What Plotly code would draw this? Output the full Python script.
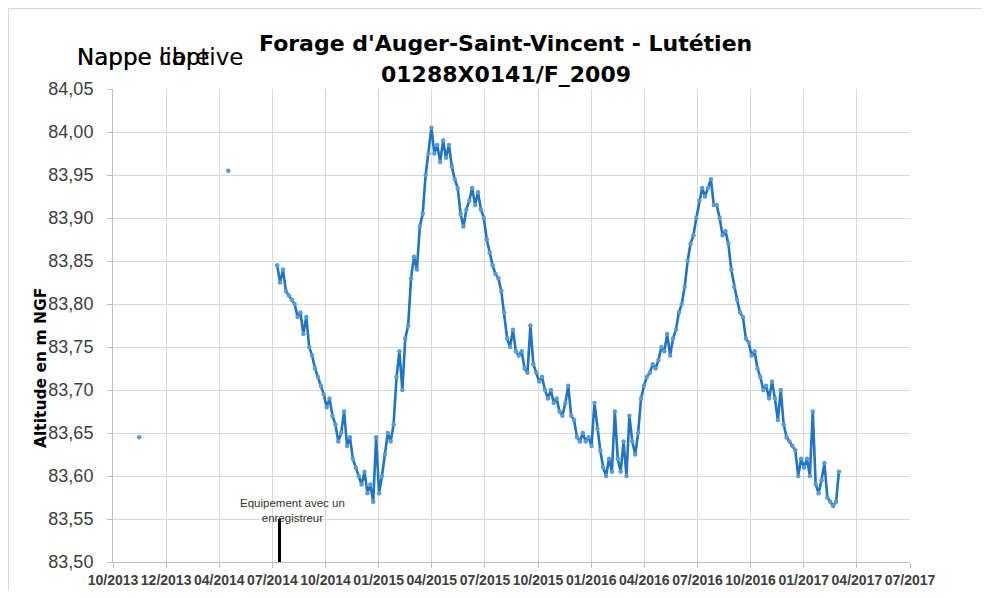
import pandas as pd
import plotly.graph_objects as go

# ---- data ----
series_start = "2014-07-10"
series_step_days = 5
levels = [
    83.845, 83.825, 83.840, 83.815, 83.810, 83.805, 83.800, 83.785, 83.790, 83.765,
    83.785, 83.750, 83.740, 83.725, 83.715, 83.705, 83.695, 83.680, 83.690, 83.670,
    83.660, 83.640, 83.650, 83.675, 83.635, 83.645, 83.620, 83.610, 83.600, 83.590,
    83.605, 83.580, 83.590, 83.570, 83.645, 83.580, 83.600, 83.625, 83.650, 83.640,
    83.660, 83.715, 83.745, 83.700, 83.760, 83.775, 83.830, 83.855, 83.840, 83.890,
    83.905, 83.950, 83.975, 84.005, 83.975, 83.985, 83.965, 83.990, 83.970, 83.985,
    83.960, 83.945, 83.935, 83.905, 83.890, 83.910, 83.920, 83.935, 83.915, 83.930,
    83.910, 83.900, 83.875, 83.860, 83.845, 83.835, 83.830, 83.815, 83.790, 83.760,
    83.750, 83.770, 83.745, 83.740, 83.745, 83.725, 83.720, 83.775, 83.730, 83.720,
    83.710, 83.715, 83.700, 83.690, 83.700, 83.685, 83.690, 83.675, 83.670, 83.685,
    83.705, 83.670, 83.665, 83.645, 83.640, 83.650, 83.640, 83.645, 83.635, 83.685,
    83.655, 83.630, 83.610, 83.600, 83.620, 83.605, 83.675, 83.620, 83.605, 83.640,
    83.600, 83.670, 83.640, 83.625, 83.650, 83.690, 83.705, 83.715, 83.720, 83.730,
    83.725, 83.735, 83.750, 83.745, 83.765, 83.740, 83.760, 83.770, 83.790, 83.800,
    83.820, 83.850, 83.870, 83.880, 83.900, 83.920, 83.935, 83.925, 83.935, 83.945,
    83.915, 83.915, 83.900, 83.880, 83.885, 83.870, 83.840, 83.820, 83.805, 83.790,
    83.785, 83.760, 83.755, 83.740, 83.745, 83.725, 83.715, 83.700, 83.705, 83.690,
    83.710, 83.690, 83.665, 83.700, 83.660, 83.645, 83.640, 83.635, 83.630, 83.600,
    83.620, 83.610, 83.620, 83.600, 83.675, 83.590, 83.580, 83.595, 83.615, 83.575,
    83.570, 83.565, 83.570, 83.605,
]
manual_dates = ["2013-11-15", "2014-04-17"]
manual_levels = [83.645, 83.955]

logger_date = "2014-07-14"
logger_marker_levels = [83.50, 83.55]

axis_start = "2013-10-01"
axis_end = "2017-07-01"
tick_labels = ["10/2013", "12/2013", "04/2014", "07/2014", "10/2014", "01/2015",
               "04/2015", "07/2015", "10/2015", "01/2016", "04/2016", "07/2016",
               "10/2016", "01/2017", "04/2017", "07/2017"]

title_line1 = "Forage d'Auger-Saint-Vincent - Lutétien"
title_line2 = "01288X0141/F_2009"
y_title = "Altitude en m NGF"
note_text = "Equipement avec un<br>enregistreur"

# ---- build ----
dates = pd.date_range(series_start, periods=len(levels), freq=f"{series_step_days}D")
t0, t1 = pd.Timestamp(axis_start), pd.Timestamp(axis_end)
n = len(tick_labels) - 1
tick_vals = [t0 + (t1 - t0) * k / n for k in range(n + 1)]

OFF = 8                      # page body margin
W, H = 991 - 2 * OFF, 598 - 2 * OFF
L, R, T, B = 113, 910, 89, 562   # plot area in screen pixels
def px(x):
    return (x - L) / (R - L)
def py(y):
    return (B - y) / (B - T)

line_col = "#1f74c6"
mark_col = "#5b9bd5"

fig = go.Figure()
fig.add_trace(go.Scatter(
    x=dates, y=levels, mode="lines+markers",
    line=dict(color=line_col, width=2.6),
    marker=dict(color=mark_col, size=4.5),
    showlegend=False, hoverinfo="x+y"))
fig.add_trace(go.Scatter(
    x=pd.to_datetime(manual_dates), y=manual_levels, mode="markers",
    marker=dict(color=mark_col, size=4.5), showlegend=False))
fig.add_trace(go.Scatter(
    x=[pd.Timestamp(logger_date)] * 2, y=logger_marker_levels, mode="lines",
    line=dict(color="black", width=3), showlegend=False))

fig.update_layout(
    width=W, height=H,
    margin=dict(l=L - OFF, r=W - (R - OFF), t=T - OFF, b=H - (B - OFF), autoexpand=False),
    paper_bgcolor="white", plot_bgcolor="white",
    separators=", ",
    font=dict(family="Liberation Sans, Arial, sans-serif", color="#404040"),
    showlegend=False,
)
fig.update_xaxes(
    type="date", range=[t0, t1], automargin=False,
    tickvals=tick_vals, ticktext=[f"<b>{t}</b>" for t in tick_labels],
    tickfont=dict(size=14, color="#404040"),
    showgrid=True, gridcolor="#d9d9d9", gridwidth=1,
    showline=True, linecolor="#bfbfbf", linewidth=1,
    ticks="outside", ticklen=5, tickcolor="#bfbfbf",
    zeroline=False, mirror=False,
)
fig.update_yaxes(
    range=[83.50, 84.05], dtick=0.05, tick0=83.50, tickformat=".2f", automargin=False,
    tickfont=dict(size=18, color="#404040"),
    showgrid=True, gridcolor="#d9d9d9", gridwidth=1,
    showline=True, linecolor="#bfbfbf", linewidth=1,
    ticks="outside", ticklen=5, tickcolor="#bfbfbf",
    ticklabelstandoff=10,
    zeroline=False,
)

ann = []
ann.append(dict(xref="paper", yref="paper", x=px(505), y=py(43), text=f"<b>{title_line1}</b>",
                showarrow=False, xanchor="center", yanchor="middle",
                font=dict(size=22, color="black", family="DejaVu Sans")))
ann.append(dict(xref="paper", yref="paper", x=px(506), y=py(74), text=f"<b>{title_line2}</b>",
                showarrow=False, xanchor="center", yanchor="middle",
                font=dict(size=22, color="black", family="DejaVu Sans")))
for word in ["Nappe libre", "Nappe captive"]:
    ann.append(dict(xref="paper", yref="paper", x=px(75), y=py(57), text=word,
                    showarrow=False, xanchor="left", yanchor="middle",
                    font=dict(size=23, color="black", family="DejaVu Sans")))
ann.append(dict(xref="paper", yref="paper", x=px(41), y=py(368), text=f"<b>{y_title}</b>",
                showarrow=False, textangle=-90, xanchor="center", yanchor="middle",
                font=dict(size=15.5, color="black", family="DejaVu Sans")))
ann.append(dict(xref="paper", yref="paper", x=px(292), y=py(510), text=note_text,
                showarrow=False, xanchor="center", yanchor="middle",
                font=dict(size=11.5, color="#333333", family="Liberation Sans, Arial")))
fig.update_layout(annotations=ann)

# chart frame (top and left edges visible in the reference)
fx0, fy0 = px(OFF + 0.5), py(OFF + 0.5)
fx1 = px(OFF + W - 1)
fig.add_shape(type="line", xref="paper", yref="paper", x0=fx0, x1=fx1, y0=fy0, y1=fy0,
              line=dict(color="#d9d9d9", width=1))
fig.add_shape(type="line", xref="paper", yref="paper", x0=fx0, x1=fx0, y0=fy0, y1=py(OFF + H),
              line=dict(color="#d9d9d9", width=1))

fig.write_html("out.html")
